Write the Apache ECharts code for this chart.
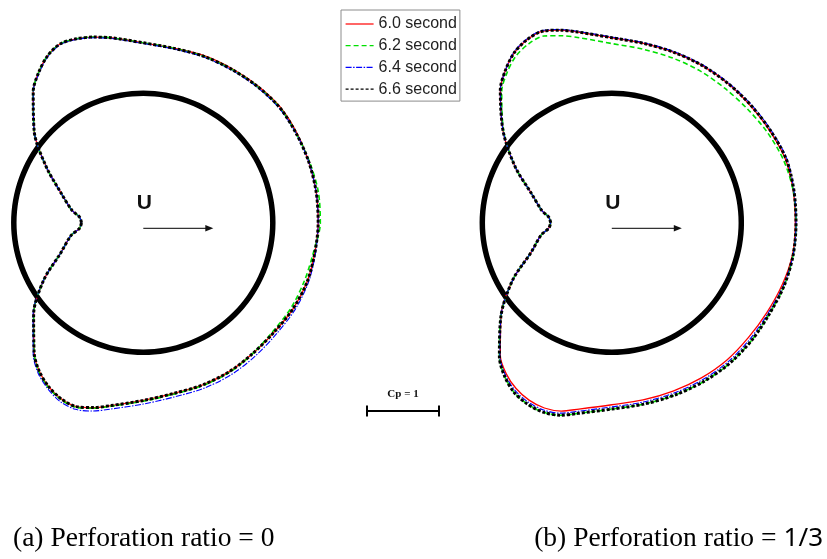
<!DOCTYPE html>
<html><head><meta charset="utf-8">
<script src="https://cdn.jsdelivr.net/npm/echarts@6/dist/echarts.min.js"></script>
<style>html,body{margin:0;padding:0;background:#fff}#c{width:827px;height:559px}</style>
</head><body><div id="c"></div>
<script>
// polar angle (deg) measured from the front stagnation point, going over the top
const ANGLES = [0,5,10,20,30,40,50,55,60,65,70,75,80,90,100,110,120,130,140,150,160,170,180,190,200,210,220,230,240,250,260,270,280,285,290,295,300,305,310,320,330,340,350,355,360];
const SERIES_NAMES = ['6.0 second','6.2 second','6.4 second','6.6 second'];

// (a) perforation ratio = 0 : Cp values
const CP_A_60 = [0.94,0.91,0.79,0.58,0.24,-0.18,-0.58,-0.74,-0.87,-0.94,-0.92,-0.87,-0.81,-0.70,-0.66,-0.67,-0.67,-0.68,-0.69,-0.67,-0.65,-0.64,-0.63,-0.62,-0.62,-0.60,-0.57,-0.57,-0.59,-0.60,-0.61,-0.67,-0.78,-0.86,-0.92,-0.90,-0.83,-0.72,-0.56,-0.19,0.20,0.58,0.78,0.91,0.94];
const CP_A_62 = [0.94,0.91,0.79,0.58,0.24,-0.18,-0.58,-0.74,-0.87,-0.94,-0.92,-0.87,-0.81,-0.70,-0.66,-0.66,-0.66,-0.67,-0.68,-0.66,-0.66,-0.67,-0.66,-0.60,-0.58,-0.57,-0.55,-0.57,-0.60,-0.61,-0.62,-0.68,-0.79,-0.87,-0.93,-0.91,-0.84,-0.73,-0.56,-0.19,0.20,0.58,0.78,0.91,0.94];
const CP_A_64 = [0.94,0.91,0.79,0.58,0.24,-0.18,-0.58,-0.73,-0.86,-0.93,-0.91,-0.86,-0.80,-0.69,-0.65,-0.65,-0.65,-0.66,-0.67,-0.66,-0.65,-0.64,-0.63,-0.63,-0.64,-0.63,-0.61,-0.62,-0.64,-0.65,-0.66,-0.72,-0.83,-0.91,-0.96,-0.94,-0.86,-0.75,-0.58,-0.20,0.20,0.58,0.78,0.91,0.94];
const CP_A_66 = [0.94,0.91,0.79,0.58,0.24,-0.18,-0.58,-0.74,-0.87,-0.94,-0.92,-0.87,-0.81,-0.70,-0.66,-0.66,-0.66,-0.67,-0.68,-0.66,-0.65,-0.64,-0.63,-0.62,-0.62,-0.60,-0.57,-0.57,-0.59,-0.60,-0.61,-0.67,-0.78,-0.86,-0.92,-0.90,-0.83,-0.72,-0.56,-0.19,0.20,0.58,0.78,0.91,0.94];

// (b) perforation ratio = 1/3 : Cp values
const CP_B_60 = [0.95,0.92,0.81,0.61,0.25,-0.17,-0.61,-0.78,-0.92,-1.00,-1.03,-0.97,-0.89,-0.77,-0.73,-0.72,-0.72,-0.72,-0.72,-0.74,-0.77,-0.76,-0.75,-0.75,-0.72,-0.69,-0.68,-0.69,-0.69,-0.69,-0.70,-0.73,-0.83,-0.91,-0.94,-0.92,-0.86,-0.76,-0.61,-0.21,0.21,0.61,0.80,0.92,0.95];
const CP_B_62 = [0.95,0.92,0.81,0.61,0.25,-0.16,-0.58,-0.74,-0.87,-0.94,-0.96,-0.89,-0.81,-0.69,-0.65,-0.64,-0.64,-0.64,-0.66,-0.70,-0.74,-0.76,-0.76,-0.76,-0.75,-0.73,-0.74,-0.75,-0.75,-0.75,-0.76,-0.79,-0.89,-0.97,-1.00,-0.98,-0.92,-0.80,-0.63,-0.21,0.21,0.61,0.80,0.92,0.95];
const CP_B_64 = [0.95,0.92,0.81,0.61,0.25,-0.17,-0.61,-0.78,-0.93,-1.01,-1.04,-0.98,-0.90,-0.78,-0.74,-0.73,-0.73,-0.73,-0.74,-0.76,-0.79,-0.77,-0.76,-0.76,-0.74,-0.71,-0.71,-0.72,-0.72,-0.72,-0.73,-0.76,-0.86,-0.94,-0.97,-0.95,-0.89,-0.78,-0.62,-0.21,0.21,0.61,0.80,0.92,0.95];
const CP_B_66 = [0.95,0.92,0.81,0.61,0.25,-0.17,-0.61,-0.78,-0.92,-1.00,-1.03,-0.97,-0.89,-0.77,-0.73,-0.72,-0.72,-0.72,-0.73,-0.75,-0.78,-0.77,-0.76,-0.76,-0.75,-0.73,-0.74,-0.75,-0.75,-0.75,-0.76,-0.79,-0.89,-0.97,-1.00,-0.98,-0.92,-0.80,-0.63,-0.21,0.21,0.61,0.80,0.92,0.95];

const CAPTIONS = ['(a) Perforation ratio = 0', '(b) Perforation ratio =', '1/3'];
const SCALE_LABEL = 'Cp = 1';

// geometry / style
const CYL_R = 1;          // cylinder radius in axis units
const CP_SCALE = 0.556;   // radius units per unit of Cp
const R_MAX = 2;
const POLAR_R = 259;      // px for R_MAX
const CENTERS = [[143.3, 222.7], [611.8, 222.7]];
const PX_PER_UNIT = POLAR_R / R_MAX;

const STYLES = [
  {color:'#ff0000', width:1.3, type:'solid'},
  {color:'#00e000', width:1.6, type:[5,3]},
  {color:'#0000ff', width:1.1, type:[6,1.5,1.5,1.5]},
  {color:'#000000', width:3, type:[3,2]}
];
const PANELS = [[CP_A_60, CP_A_62, CP_A_64, CP_A_66], [CP_B_60, CP_B_62, CP_B_64, CP_B_66]];

function toPolar(cp) { return cp.map((c, i) => [CYL_R - CP_SCALE * c, ANGLES[i]]); }
const CIRCLE_ANGLES = Array.from({length: 73}, (_, i) => i * 5);

const series = [];
PANELS.forEach((panel, p) => {
  series.push({
    type: 'line', coordinateSystem: 'polar', polarIndex: p, silent: true,
    data: CIRCLE_ANGLES.map(a => [CYL_R, a]), smooth: true, symbol: 'none',
    lineStyle: {color: '#000', width: 5.5}, z: 1
  });
  panel.forEach((cp, k) => {
    series.push({
      type: 'line', coordinateSystem: 'polar', polarIndex: p, name: SERIES_NAMES[k],
      data: toPolar(cp), smooth: 0.3, symbol: 'none', silent: true,
      lineStyle: {color: STYLES[k].color, width: STYLES[k].width, type: STYLES[k].type, cap: 'butt'},
      itemStyle: {color: STYLES[k].color}, z: 2 + k
    });
  });
});

const graphic = [];
CENTERS.forEach(([cx, cy]) => {
  graphic.push({type: 'text', style: {x: cx + 1, y: cy - 19.7, text: 'U', font: 'bold 21px "Liberation Sans", Arial, sans-serif', fill: '#111', align: 'center', verticalAlign: 'middle'}});
  graphic.push({type: 'line', shape: {x1: cx, y1: cy + 5.6, x2: cx + 64, y2: cy + 5.6}, style: {stroke: '#333', lineWidth: 1.3}});
  graphic.push({type: 'polygon', shape: {points: [[cx + 70, cy + 5.6], [cx + 62, cy + 2.3], [cx + 62, cy + 8.9]]}, style: {fill: '#111'}});
});
// Cp scale bar
const barLen = CP_SCALE * PX_PER_UNIT;
const barCx = 403, barY = 411;
graphic.push({type: 'line', shape: {x1: barCx - barLen/2, y1: barY, x2: barCx + barLen/2, y2: barY}, style: {stroke: '#000', lineWidth: 2}});
graphic.push({type: 'line', shape: {x1: barCx - barLen/2, y1: barY - 5.5, x2: barCx - barLen/2, y2: barY + 5.5}, style: {stroke: '#000', lineWidth: 2}});
graphic.push({type: 'line', shape: {x1: barCx + barLen/2, y1: barY - 5.5, x2: barCx + barLen/2, y2: barY + 5.5}, style: {stroke: '#000', lineWidth: 2}});
graphic.push({type: 'text', style: {x: barCx, y: 394.5, text: SCALE_LABEL, font: 'bold 11px "Liberation Serif", "Times New Roman", serif', fill: '#111', align: 'center', verticalAlign: 'middle'}});
// captions
graphic.push({type: 'text', style: {x: 13, y: 539, text: CAPTIONS[0], font: '27.5px "Liberation Serif", "Times New Roman", serif', fill: '#000', align: 'left', verticalAlign: 'middle'}});
graphic.push({type: 'text', style: {x: 776.5, y: 539, text: CAPTIONS[1], font: '27.5px "Liberation Serif", "Times New Roman", serif', fill: '#000', align: 'right', verticalAlign: 'middle'}});
graphic.push({type: 'text', style: {x: 823, y: 539, text: CAPTIONS[2], font: '26px "Noto Sans", sans-serif', fill: '#000', align: 'right', verticalAlign: 'middle'}});

const option = {
  animation: false,
  backgroundColor: '#fff',
  polar: CENTERS.map(c => ({center: c, radius: POLAR_R})),
  angleAxis: CENTERS.map((c, i) => ({polarIndex: i, type: 'value', min: 0, max: 360, startAngle: 180, clockwise: true, show: false, axisLine: {show: false}, axisTick: {show: false}, axisLabel: {show: false}, splitLine: {show: false}})),
  radiusAxis: CENTERS.map((c, i) => ({polarIndex: i, type: 'value', min: 0, max: R_MAX, show: false, axisLine: {show: false}, axisTick: {show: false}, axisLabel: {show: false}, splitLine: {show: false}})),
  legend: {
    data: SERIES_NAMES, orient: 'vertical', left: 341, top: 10,
    padding: [6, 3, 4, 4], itemGap: 5.7, itemWidth: 28, itemHeight: 14,
    borderColor: '#8c8c8c', borderWidth: 1, selectedMode: false,
    textStyle: {fontFamily: '"Liberation Sans", Arial, sans-serif', fontSize: 16, color: '#222', lineHeight: 16},
    itemStyle: {opacity: 0},
    lineStyle: {width: 1.2}
  },
  series: series,
  graphic: graphic
};
const chart = echarts.init(document.getElementById('c'), null, {renderer: 'canvas'});
chart.setOption(option);
</script>
</body></html>
